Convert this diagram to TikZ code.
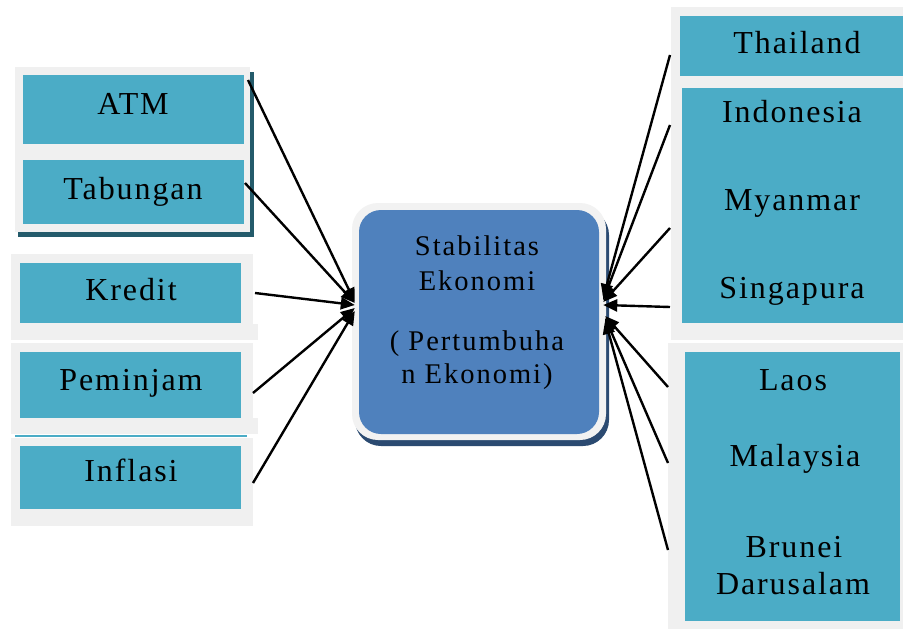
\documentclass[tikz,border=0pt]{standalone}
\usepackage{fontspec}
\setmainfont{Liberation Serif}
\newfontfamily\spfont[LetterSpace=6]{Liberation Serif}
\newfontfamily\spcfont[LetterSpace=7]{Liberation Serif}
\usetikzlibrary{arrows.meta,fit}
\definecolor{tealbox}{HTML}{4BACC6}
\definecolor{panelgray}{HTML}{F0F0F0}
\definecolor{tealshadow}{HTML}{245B6B}
\definecolor{ctrblue}{HTML}{4F81BD}
\definecolor{ctrshadow}{HTML}{2B4A71}
\definecolor{ctrborder}{HTML}{F2F2F2}
\begin{document}
\begin{tikzpicture}[x=1pt,y=-1pt,
  panel/.style={fill=panelgray, draw=none, inner sep=0pt, outer sep=0pt},
  tshadow/.style={fill=tealshadow, draw=none, inner sep=0pt, outer sep=0pt},
  tbox/.style={fill=tealbox, draw=none, inner sep=0pt, outer sep=0pt},
  lbl/.style={font=\spfont\fontsize{32}{38}\selectfont, inner sep=0pt, anchor=base},
  clbl/.style={font=\spcfont\fontsize{28.5}{34}\selectfont, inner sep=0pt, anchor=base},
  conn/.style={line width=2.4pt, -{Triangle[length=14pt,width=12pt]}},
]
\useasboundingbox (0,0) rectangle (903,629);
\fill[white] (0,0) rectangle (903,629);

% left panels
\node[tshadow, fit={(18,72) (254,237)}] (p1s) {};
\node[panel, fit={(15,67) (250,232)}] (p1) {};
\node[tbox, fit={(23,75) (244,144)}] (atm) {};
\node[tbox, fit={(23,160) (244,224)}] (tab) {};

\node[panel, fit={(11,254) (253,340)}] (p2) {};
\node[panel, fit={(11,324) (258,340)}] (p2b) {};
\node[tbox, fit={(20,263) (241,323)}] (kre) {};

\node[panel, fit={(11,343) (253,418)}] (p3) {};
\node[panel, fit={(11,418) (258,434)}] (p3b) {};
\node[tbox, fit={(15,435) (247,437)}] (p3line) {};
\node[tbox, fit={(20,352) (241,418)}] (pem) {};

\node[panel, fit={(11,438) (253,526)}] (p4) {};
\node[tbox, fit={(20,446) (241,509)}] (inf) {};

% right panels
\node[panel, fit={(671,7) (903,340)}] (pa) {};
\node[tbox, fit={(680,16) (903,76)}] (tha) {};
\node[tbox, fit={(682,88) (903,323)}] (grpa) {};
\node[panel, fit={(668,343) (903,629)}] (pb) {};
\node[tbox, fit={(685,352) (900,621)}] (grpb) {};

% center
\node[fill=ctrshadow, rounded corners=26pt, inner sep=0pt, fit={(355,209) (609,446)}] (cs) {};
\node[fill=ctrborder, rounded corners=26pt, inner sep=0pt, fit={(352,203) (606,440)}] (cb) {};
\node[fill=ctrblue, rounded corners=22pt, inner sep=0pt, fit={(359,210) (599,434)}] (ctr) {};

% connectors left
\draw[conn] ([shift={(4,5)}]atm.north east) -- ([shift={(-4,-20)}]ctr.west);
\draw[conn] ([shift={(1,-9)}]tab.east) -- ([shift={(-4,-19)}]ctr.west);
\draw[conn] ([shift={(14,0)}]kre.east) -- ([shift={(-4,-17)}]ctr.west);
\draw[conn] ([shift={(12,8)}]pem.east) -- ([shift={(-4,-14)}]ctr.west);
\draw[conn] ([shift={(12,5.5)}]inf.east) -- ([shift={(-4,-11)}]ctr.west);

% connectors right
\draw[conn] ([shift={(-10,9)}]tha.west) -- ([shift={(4,-24)}]ctr.east);
\draw[conn] ([shift={(-12,-80.5)}]grpa.west) -- ([shift={(4,-22)}]ctr.east);
\draw[conn] ([shift={(-12,22.5)}]grpa.west) -- ([shift={(4,-20)}]ctr.east);
\draw[conn] ([shift={(-12,101.5)}]grpa.west) -- ([shift={(4,-17)}]ctr.east);
\draw[conn] ([shift={(-17,-99.5)}]grpb.west) -- ([shift={(6,-6)}]ctr.east);
\draw[conn] ([shift={(-17,-23.5)}]grpb.west) -- ([shift={(6,-4)}]ctr.east);
\draw[conn] ([shift={(-17,63.5)}]grpb.west) -- ([shift={(6,-2)}]ctr.east);

% texts
\node[lbl] (tATM) at (133,114) {ATM};
\node[lbl] (tTab) at (133,199) {Tabungan};
\node[lbl] (tKre) at (131,300) {Kredit};
\node[lbl] (tPem) at (131,390) {Peminjam};
\node[lbl] (tInf) at (131,481) {Inflasi};

\node[lbl] (tTha) at (797,53) {Thailand};
\node[lbl] (tIndo) at (792,122) {Indonesia};
\node[lbl] (tMya) at (792,210) {Myanmar};
\node[lbl] (tSin) at (792,298) {Singapura};
\node[lbl] (tLao) at (793,390) {Laos};
\node[lbl] (tMal) at (795,466) {Malaysia};
\node[lbl] (tBru) at (794,557) {Brunei};
\node[lbl] (tDar) at (793,594) {Darusalam};

\node[clbl] (c1) at (477,255) {Stabilitas};
\node[clbl] (c2) at (477,290) {Ekonomi};
\node[clbl] (c3) at (477,350) {( Pertumbuha};
\node[clbl] (c4) at (477,383) {n Ekonomi)};
\end{tikzpicture}
\end{document}
